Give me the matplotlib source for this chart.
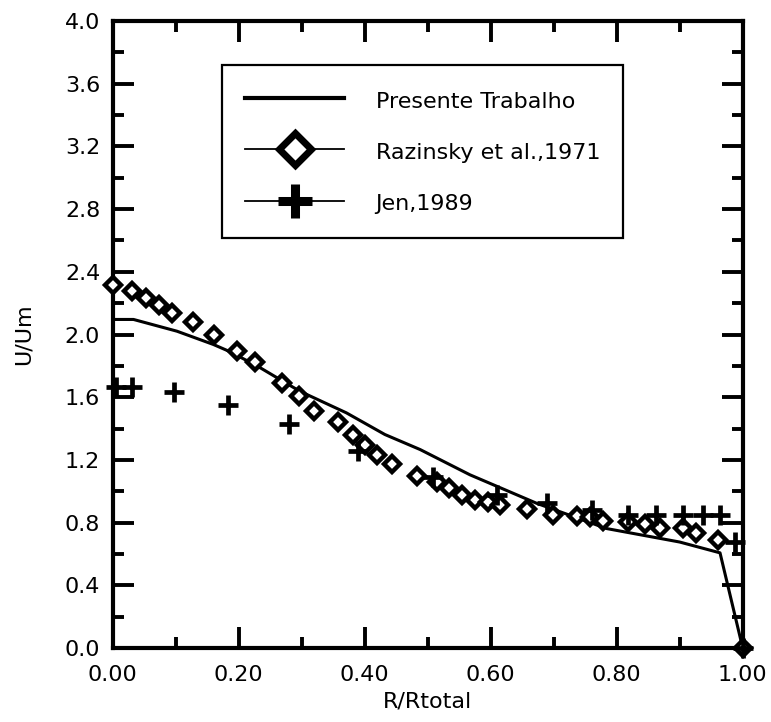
import matplotlib.pyplot as plt
from matplotlib.lines import Line2D
from matplotlib.ticker import MultipleLocator, FormatStrFormatter

plt.rcParams['font.family'] = ['DejaVu Sans']

# Presente Trabalho (solid line)
line_x = [0.0, 0.033, 0.102, 0.160, 0.184, 0.229, 0.297, 0.371, 0.432, 0.488,
          0.567, 0.673, 0.784, 0.900, 0.964, 1.0]
line_y = [2.096, 2.096, 2.021, 1.936, 1.894, 1.80, 1.638, 1.50, 1.362, 1.266,
          1.105, 0.923, 0.762, 0.676, 0.607, 0.0]

# Razinsky et al., 1971 (diamonds)
raz_x = [0.0, 0.031, 0.053, 0.074, 0.094, 0.127, 0.160, 0.198, 0.226, 0.268,
         0.296, 0.319, 0.358, 0.381, 0.400, 0.419, 0.443, 0.483, 0.514, 0.533,
         0.554, 0.575, 0.596, 0.615, 0.657, 0.699, 0.737, 0.758, 0.778, 0.818,
         0.845, 0.869, 0.906, 0.926, 0.960, 1.0]
raz_y = [2.319, 2.277, 2.23, 2.187, 2.138, 2.079, 2.0, 1.894, 1.823, 1.691,
         1.606, 1.511, 1.44, 1.362, 1.298, 1.234, 1.177, 1.10, 1.062, 1.019,
         0.976, 0.944, 0.929, 0.912, 0.886, 0.848, 0.843, 0.837, 0.809, 0.805,
         0.794, 0.766, 0.766, 0.736, 0.687, 0.0]

# Jen, 1989 (crosses)
jen_x = [0.005, 0.030, 0.097, 0.183, 0.280, 0.390, 0.509, 0.610, 0.689, 0.760,
         0.818, 0.863, 0.906, 0.937, 0.964, 0.988, 1.0]
jen_y = [1.665, 1.668, 1.632, 1.553, 1.43, 1.255, 1.094, 0.976, 0.923, 0.880,
         0.848, 0.848, 0.848, 0.848, 0.848, 0.676, 0.0]

labels = ['Presente Trabalho', 'Razinsky et al.,1971', 'Jen,1989']

fig = plt.figure(figsize=(7.71, 7.22), dpi=100)
ax = fig.add_axes([0.1462, 0.1025, 0.8171, 0.8684])

ax.plot(line_x, line_y, color='black', lw=2.2, zorder=2)
ax.plot(raz_x, raz_y, ls='none', marker='D', ms=8.5, mfc='white',
        mec='black', mew=3.2, zorder=3, clip_on=False)
ax.plot(jen_x, jen_y, ls='none', marker='+', ms=14, mec='black',
        mew=3.4, zorder=4, clip_on=False)

ax.set_xlim(0, 1)
ax.set_ylim(0, 4)
ax.xaxis.set_major_locator(MultipleLocator(0.2))
ax.xaxis.set_minor_locator(MultipleLocator(0.1))
ax.yaxis.set_major_locator(MultipleLocator(0.4))
ax.yaxis.set_minor_locator(MultipleLocator(0.2))
ax.xaxis.set_major_formatter(FormatStrFormatter('%.2f'))
ax.yaxis.set_major_formatter(FormatStrFormatter('%.1f'))

ax.tick_params(which='both', direction='in', top=True, right=True,
               width=2.8, labelsize=16)
ax.tick_params(which='major', length=15)
ax.tick_params(which='minor', length=8)
ax.tick_params(axis='x', pad=12)
ax.tick_params(axis='y', pad=9)
for s in ax.spines.values():
    s.set_linewidth(3)

ax.set_xlabel('R/Rtotal', fontsize=16)
ax.set_ylabel('U/Um', fontsize=16)
ax.xaxis.set_label_coords(0.5, -0.07)
ax.yaxis.set_label_coords(-0.126, 0.5)

handles = [
    Line2D([], [], color='black', lw=3),
    Line2D([], [], color='black', lw=1.3, marker='D', ms=16, mfc='white',
           mec='black', mew=5),
    Line2D([], [], color='black', lw=1.3, marker='+', ms=24, mec='black',
           mew=6.5),
]
leg = ax.legend(handles, labels, loc='upper left',
                bbox_to_anchor=(0.1735, 0.93), borderaxespad=0,
                fontsize=16, frameon=True, fancybox=False, framealpha=1,
                edgecolor='black', handlelength=4.46, handletextpad=1.4,
                handleheight=1.3, borderpad=1.05, labelspacing=1.22)
leg.get_frame().set_linewidth(1.6)

fig.savefig('out.png', dpi=100)
